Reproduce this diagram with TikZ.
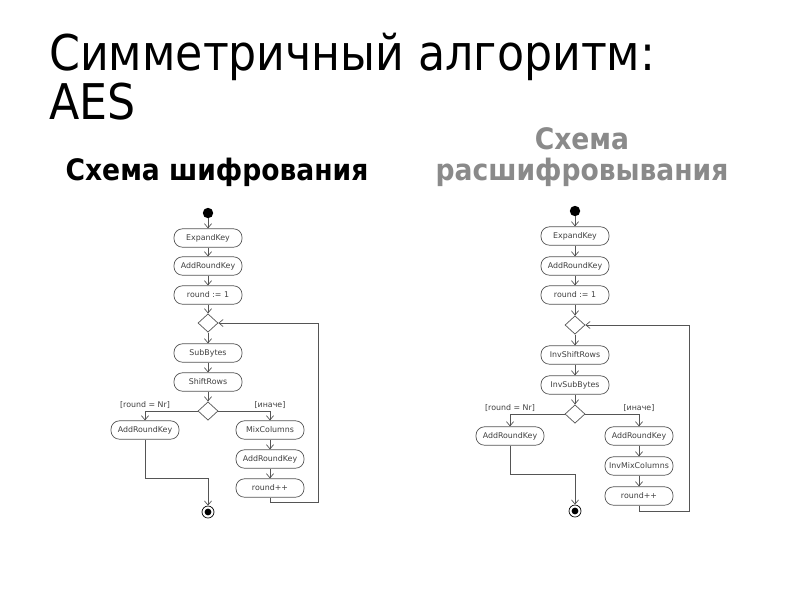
\documentclass[tikz,border=0pt]{standalone}
\usepackage{fontspec}
\setmainfont{DejaVu Sans}
\newfontfamily\condfont{DejaVu Sans Condensed}
\usetikzlibrary{shapes.geometric,arrows.meta,positioning,calc}
\definecolor{umlgray}{HTML}{555555}
\definecolor{subgray}{HTML}{8A8A8A}

\begin{document}
\begin{tikzpicture}[x=0.025cm, y=-0.025cm,
  act/.style={draw=umlgray, rounded corners=6pt, minimum height=0.46cm, minimum width=1.7cm, inner sep=1pt, font=\fontsize{5.6}{6.5}\selectfont, text=black!75, line width=0.5pt},
  dec/.style={draw=umlgray, diamond, minimum width=0.5cm, minimum height=0.46cm, inner sep=0pt, line width=0.5pt},
  init/.style={circle, fill=black, minimum size=0.26cm, inner sep=0pt},
  final/.style={circle, draw=black, line width=0.5pt, minimum size=0.3cm, inner sep=0pt, path picture={\fill (path picture bounding box.center) circle (0.085cm);}},
  guard/.style={font=\fontsize{5.6}{6.5}\selectfont, text=black!75, inner sep=1.5pt},
  flow/.style={draw=umlgray, line width=0.5pt, -{Straight Barb[length=3pt,width=5pt]}}
]
\fill[white] (0,0) rectangle (800,600);
\useasboundingbox (0,0) rectangle (800,600);

% headings
\node[anchor=base west, inner sep=0pt, font=\condfont\fontsize{35}{40}\selectfont] (title) at (49,70) {Симметричный алгоритм:};
\node[anchor=base west, inner sep=0pt, font=\condfont\fontsize{35}{40}\selectfont] (aes) at (49,119) {AES};
\node[anchor=base, inner sep=0pt, font=\condfont\bfseries\fontsize{21}{24}\selectfont] (enc) at (217,180) {Схема шифрования};
\node[anchor=base, inner sep=0pt, font=\condfont\bfseries\fontsize{21}{24}\selectfont, text=subgray] (dectop) at (582,149) {Схема};
\node[anchor=base, inner sep=0pt, font=\condfont\bfseries\fontsize{21}{24}\selectfont, text=subgray] (decbot) at (582,180) {расшифровывания};

% encryption
\node[init] (s1) at (208,213) {};
\node[act] (e1) at (208,238) {ExpandKey};
\node[act] (a1) at (208,266) {AddRoundKey};
\node[act] (r1) at (208,295) {round := 1};
\node[dec] (m1) at (208,323) {};
\node[act] (sb) at (208,353) {SubBytes};
\node[act] (sr) at (208,382) {ShiftRows};
\node[dec] (n1) at (208,411) {};
\node[act] (ka) at (145,430) {AddRoundKey};
\node[act] (mc) at (270,430) {MixColumns};
\node[act] (kb) at (270,459) {AddRoundKey};
\node[act] (p1) at (270,488) {round++};
\node[final] (f1) at (208,512) {};
\coordinate (lp1) at (318,323);

\draw[flow] (s1) -- (e1); \draw[flow] (e1) -- (a1); \draw[flow] (a1) -- (r1); \draw[flow] (r1) -- (m1);
\draw[flow] (m1) -- (sb); \draw[flow] (sb) -- (sr); \draw[flow] (sr) -- (n1);
\draw[flow] (n1.west) -| node[guard, above] {[round = Nr]} (ka.north);
\draw[flow] (n1.east) -| node[guard, above] {[иначе]} (mc.north);
\draw[flow] (mc) -- (kb); \draw[flow] (kb) -- (p1);
\draw[flow] (p1.south) -- ++(0,5) -| (lp1) -- (m1.east);
\draw[flow] (ka.south) -- ++(0,39) -| (f1.north);

% decryption
\node[init] (s2) at (575,211) {};
\node[act] (e2) at (575,236) {ExpandKey};
\node[act] (a2) at (575,266) {AddRoundKey};
\node[act] (r2) at (575,295) {round := 1};
\node[dec] (m2) at (575,325) {};
\node[act] (is) at (575,355) {InvShiftRows};
\node[act] (ib) at (575,385) {InvSubBytes};
\node[dec] (n2) at (575,414) {};
\node[act] (kc) at (510,436) {AddRoundKey};
\node[act] (kd) at (639,436) {AddRoundKey};
\node[act] (im) at (639,466) {InvMixColumns};
\node[act] (p2) at (639,496) {round++};
\node[final] (f2) at (575,511) {};
\coordinate (lp2) at (689,325);

\draw[flow] (s2) -- (e2); \draw[flow] (e2) -- (a2); \draw[flow] (a2) -- (r2); \draw[flow] (r2) -- (m2);
\draw[flow] (m2) -- (is); \draw[flow] (is) -- (ib); \draw[flow] (ib) -- (n2);
\draw[flow] (n2.west) -| node[guard, above] {[round = Nr]} (kc.north);
\draw[flow] (n2.east) -| node[guard, above] {[иначе]} (kd.north);
\draw[flow] (kd) -- (im); \draw[flow] (im) -- (p2);
\draw[flow] (p2.south) -- ++(0,6) -| (lp2) -- (m2.east);
\draw[flow] (kc.south) -- ++(0,29) -| (f2.north);
\end{tikzpicture}
\end{document}
